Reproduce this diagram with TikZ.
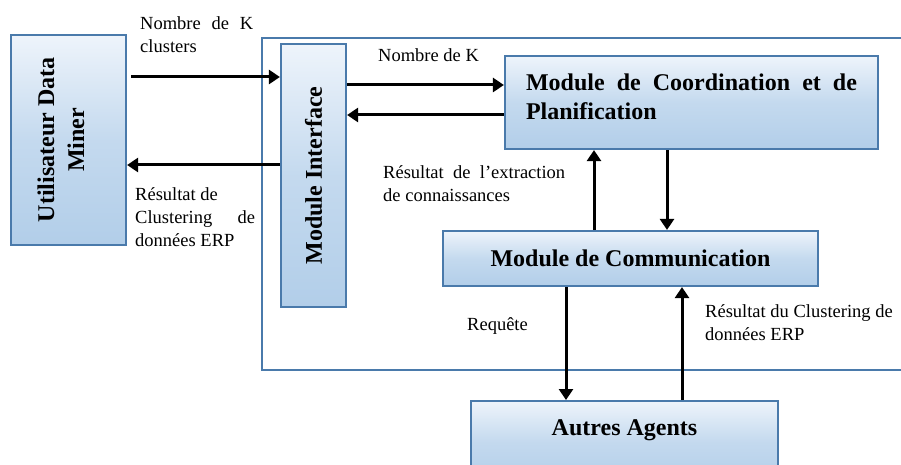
\documentclass[tikz,border=0pt]{standalone}
\usepackage{fontspec}
\setmainfont{Liberation Serif}
\usetikzlibrary{arrows.meta}
\definecolor{boxline}{HTML}{4A7AAB}
\definecolor{boxtop}{HTML}{EEF4FB}
\definecolor{boxbot}{HTML}{B2CEE9}
\begin{document}
\begin{tikzpicture}[x=1pt,y=-1pt,
  box/.style={draw=boxline, line width=2.2pt, top color=boxtop, bottom color=boxbot,
    middle color=boxbot!70!boxtop, inner sep=0pt},
  title/.style={font=\fontsize{24}{29}\selectfont\bfseries, inner sep=0pt},
  lbl/.style={font=\fontsize{18.5}{23}\selectfont, inner sep=0pt, anchor=north west, align=left},
  arr/.style={line width=3pt, -{Triangle[length=11pt,width=14pt]}}]
\useasboundingbox (0,0) rectangle (901,465);

% agent frame, open on the right
\draw[boxline, line width=2pt] (901,38) -- (262,38) -- (262,370) -- (901,370);

% boxes
\node[box, minimum width=115pt, minimum height=210pt] (user) at (68.5,140) {};
\node[title, rotate=90, align=center] (usertxt) at (61,140) {Utilisateur Data\\[1pt]Miner};

\node[box, minimum width=65pt, minimum height=263pt] (iface) at (313.5,175.5) {};
\node[title, rotate=90] (ifacetxt) at (iface) {Module Interface};

\node[box, minimum width=373pt, minimum height=93pt] (coord) at (691.5,102.5) {};
\node[title, text width=331pt, align=justify] (coordtxt) at (691.5,97)
  {Module de Coordination et de Planification};

\node[box, title, minimum width=375pt, minimum height=55pt] (comm) at (630.5,258.5)
  {Module de Communication};

\node[box, title, minimum width=307pt, anchor=north, text height=27pt, text depth=40pt,
  inner ysep=7pt] (autres) at (624.5,400) {Autres Agents};

% connectors
\draw[arr, shorten <=4pt] (user.east |- 0,77) -- (iface.west |- 0,77);
\draw[arr] (iface.west |- 0,165) -- (user.east |- 0,165);
\draw[arr] (iface.east |- 0,85) -- (coord.west |- 0,85);
\draw[arr] (coord.west |- 0,115) -- (iface.east |- 0,115);
\draw[arr] (comm.north -| 594,0) -- (coord.south -| 594,0);
\draw[arr] (coord.south -| 667,0) -- (comm.north -| 667,0);
\draw[arr] (comm.south -| 566,0) -- (autres.north -| 566,0);
\draw[arr] (autres.north -| 682,0) -- (comm.south -| 682,0);

% labels
\node[lbl] (lk1) at (140,16) {\makebox[113pt][s]{Nombre de K}\\clusters};
\node[lbl] (lres1) at (135,187) {Résultat de\\\makebox[120pt][s]{Clustering de}\\données ERP};
\node[lbl] (lk2) at (378,48) {Nombre de K};
\node[lbl] (lext) at (383,165) {\makebox[182pt][s]{Résultat de l’extraction}\\de connaissances};
\node[lbl] (lreq) at (467,317) {Requête};
\node[lbl] (lres2) at (705,304) {Résultat du Clustering de\\données ERP};
\end{tikzpicture}
\end{document}
